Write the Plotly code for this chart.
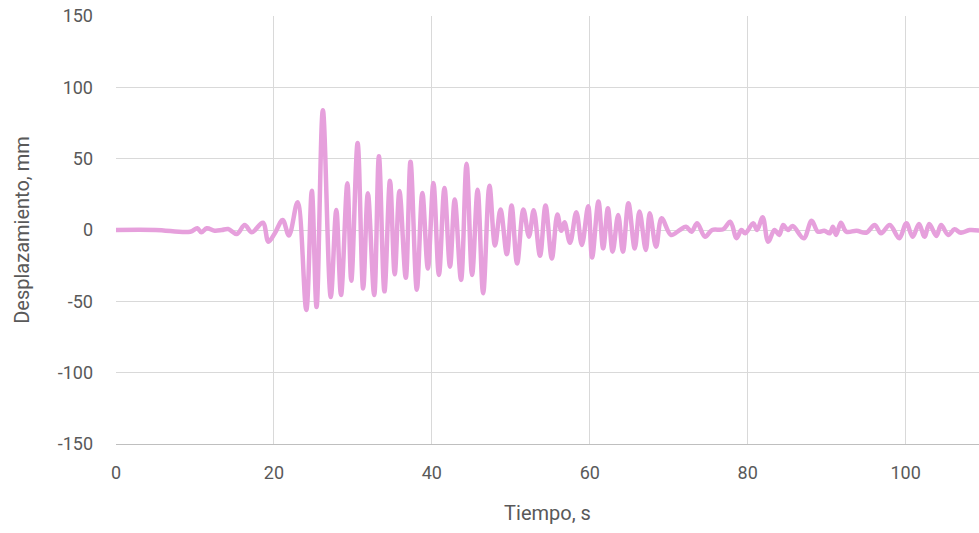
import plotly.graph_objects as go

tiempo = [0, 5, 9.4, 10.3, 10.8, 11.5, 12.5, 13.4, 14.2, 15.3, 16.3, 17.2, 18.6, 19.3, 20.1, 21.1, 21.9,
          23.0, 24.1, 24.8, 25.4, 26.2, 27.2, 27.9, 28.5, 29.3, 29.8, 30.6, 31.3, 31.9, 32.7, 33.3, 34.0,
          34.7, 35.3, 35.9, 36.7, 37.3, 38.1, 38.8, 39.5, 40.2, 40.9, 41.6, 42.3, 42.9, 43.7, 44.4, 45.1,
          45.8, 46.5, 47.3, 48.0, 48.7, 49.5, 50.1, 50.8, 51.6, 52.3, 52.9, 53.7, 54.4, 55.2, 55.9, 56.4,
          56.8, 57.5, 58.3, 59.0, 59.8, 60.3, 61.1, 61.7, 62.3, 62.9, 63.6, 64.2, 64.9, 65.7, 66.3, 67.1,
          67.6, 68.4, 69.1, 70.3, 71.4, 72.2, 72.9, 73.6, 74.6, 75.5, 76.9, 77.8, 78.6, 79.2, 79.7, 80.7,
          81.2, 81.9, 82.6, 83.4, 84.0, 84.5, 85.1, 85.7, 87.1, 88.1, 88.9, 89.7, 90.4, 90.8, 91.2, 91.8,
          92.5, 93.8, 95.0, 96.1, 96.9, 98.0, 99.2, 100.1, 100.9, 101.7, 102.4, 103.0, 103.9, 104.5, 105.4,
          106.2, 107.0, 108.1, 109.5]

desplazamiento = [0, 0, -1.2, 1.2, -1.6, 1.2, -0.5, 0, 0.7, -2.8, 3.5, -1.6, 5.1, -8.2, -2.5, 7, -3.8,
                  19.5, -56, 27.5, -54, 84, -47, 14, -45.6, 32.7, -35.5, 61, -41, 25.7, -45.6, 51.7, -43,
                  34.6, -31, 27.3, -33.5, 47.9, -41.8, 26, -27, 33, -31.5, 29.5, -25.7, 21.3, -35, 46.5, -31.5,
                  28.2, -44.4, 31, -10.8, 14.3, -17, 17.2, -23.4, 14.3, -4.7, 13.8, -18, 17.2, -19.9, 10.8, -0.6,
                  5.4, -9, 12.5, -10.5, 16.6, -19.3, 19.9, -12.9, 15.2, -15.2, 10.5, -15.2, 18.7, -12.9, 12.9, -14,
                  11.7, -11.7, 8.2, -3.5, 0, 2.3, -1.2, 4.7, -4.7, 0, 0.5, 5.8, -5.8, 0, -2.3, 4.7,
                  0, 8.9, -8.2, 0, -3.5, 3.5, 0, 2.8, -5.8, 6.5, -1.2, -0.5, -2.3, 2.3, -3.5, 5.1,
                  -1.2, -0.5, -1.9, 3.5, -2.3, 3.5, -5.8, 4.7, -4.7, 4.2, -4.7, 4.2, -4.2, 3.5, -3.5,
                  0.5, -1.9, 0, -0.5]

x_ticks = [0, 20, 40, 60, 80, 100]
y_ticks = [-150, -100, -50, 0, 50, 100, 150]
y_tick_labels = ["-150", "-100", "-50", "0", "50", "100", "150"]

fig = go.Figure()
fig.add_trace(go.Scatter(
    x=tiempo, y=desplazamiento, mode="lines",
    line=dict(color="rgb(230,160,220)", width=4.5, shape="spline", smoothing=1.0),
    showlegend=False, hoverinfo="skip",
))

font_fam = "Roboto, Liberation Sans, sans-serif"
fig.update_layout(
    width=979, height=533,
    margin=dict(l=116, r=0, t=16, b=89),
    paper_bgcolor="white", plot_bgcolor="white",
    font=dict(family=font_fam, size=18, color="#595959"),
)
fig.update_xaxes(
    range=[0, 109.3], tickvals=x_ticks, showgrid=True, gridcolor="#D9D9D9", gridwidth=1.3,
    zeroline=False, showline=True, linecolor="#BFBFBF", linewidth=1.3,
    ticks="", ticklabelstandoff=12, automargin=False,
    title=dict(text="Tiempo, s", standoff=24, font=dict(size=20, color="#595959")),
    tickfont=dict(size=18, color="#595959"),
)
fig.update_yaxes(
    range=[-150, 150], tickvals=y_ticks, ticktext=y_tick_labels,
    showgrid=True, gridcolor="#D9D9D9", gridwidth=1.3,
    zeroline=True, zerolinecolor="#D9D9D9", zerolinewidth=1.3,
    showline=False, ticks="", ticklabelstandoff=22, automargin=False,
    title=dict(text="Desplazamiento, mm", standoff=22, font=dict(size=20, color="#595959")),
    tickfont=dict(size=18, color="#595959"),
)

fig.write_html("out.html", config={"displayModeBar": False},
               post_script="document.body.style.margin='0';document.body.style.overflow='hidden';")
